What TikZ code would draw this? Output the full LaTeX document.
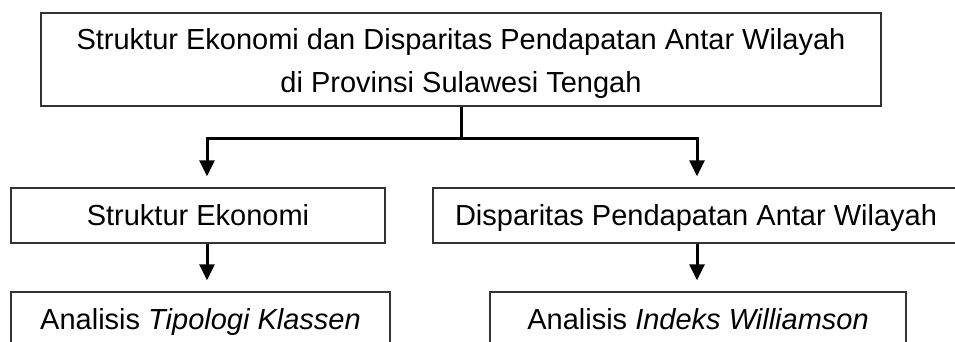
\documentclass[tikz,border=0pt]{standalone}
\usepackage{fontspec}
\setmainfont{Liberation Sans}
\usetikzlibrary{arrows.meta}
\begin{document}
\begin{tikzpicture}[x=1pt,y=-1pt,
  txt/.style={inner sep=0pt, align=center, font=\fontsize{29}{43}\selectfont},
  frame/.style={draw=black!80, line width=1.3pt, inner sep=0pt},
  box/.style={txt, frame, text height=20pt, text depth=0pt},
  conn/.style={line width=3pt},
  arr/.style={conn, -{Triangle[length=16pt,width=15pt]}, shorten >=11pt}]
\useasboundingbox (0,0) rectangle (955,342);
\clip (0,0) rectangle (955,342);
\node[frame, minimum width=840pt, minimum height=93pt] (top) at (461,59.5) {};
\node[txt] (toptext) at (461,64)
  {Struktur Ekonomi dan Disparitas Pendapatan Antar Wilayah\\di Provinsi Sulawesi Tengah};
\node[box, minimum width=374pt, minimum height=55pt] (m1) at (198,215.5) {Struktur Ekonomi};
\node[box, minimum width=526pt, minimum height=55pt] (m2) at (696,215.5) {Disparitas Pendapatan Antar Wilayah};
\node[box, minimum width=379pt, minimum height=55pt] (b1) at (200.5,319.5) {Analisis \textit{Tipologi Klassen}};
\node[box, minimum width=416pt, minimum height=55pt] (b2) at (698,319.5) {Analisis \textit{Indeks Williamson}};
\coordinate (j) at (461,138);
\coordinate (xa) at (207,0);
\coordinate (xb) at (697,0);
\draw[conn] (top.south) -- (j);
\draw[arr] (j) -| (xa |- m1.north);
\draw[arr] (j) -| (xb |- m2.north);
\draw[arr] (xa |- m1.south) -- (xa |- b1.north);
\draw[arr] (xb |- m2.south) -- (xb |- b2.north);
\end{tikzpicture}
\end{document}
